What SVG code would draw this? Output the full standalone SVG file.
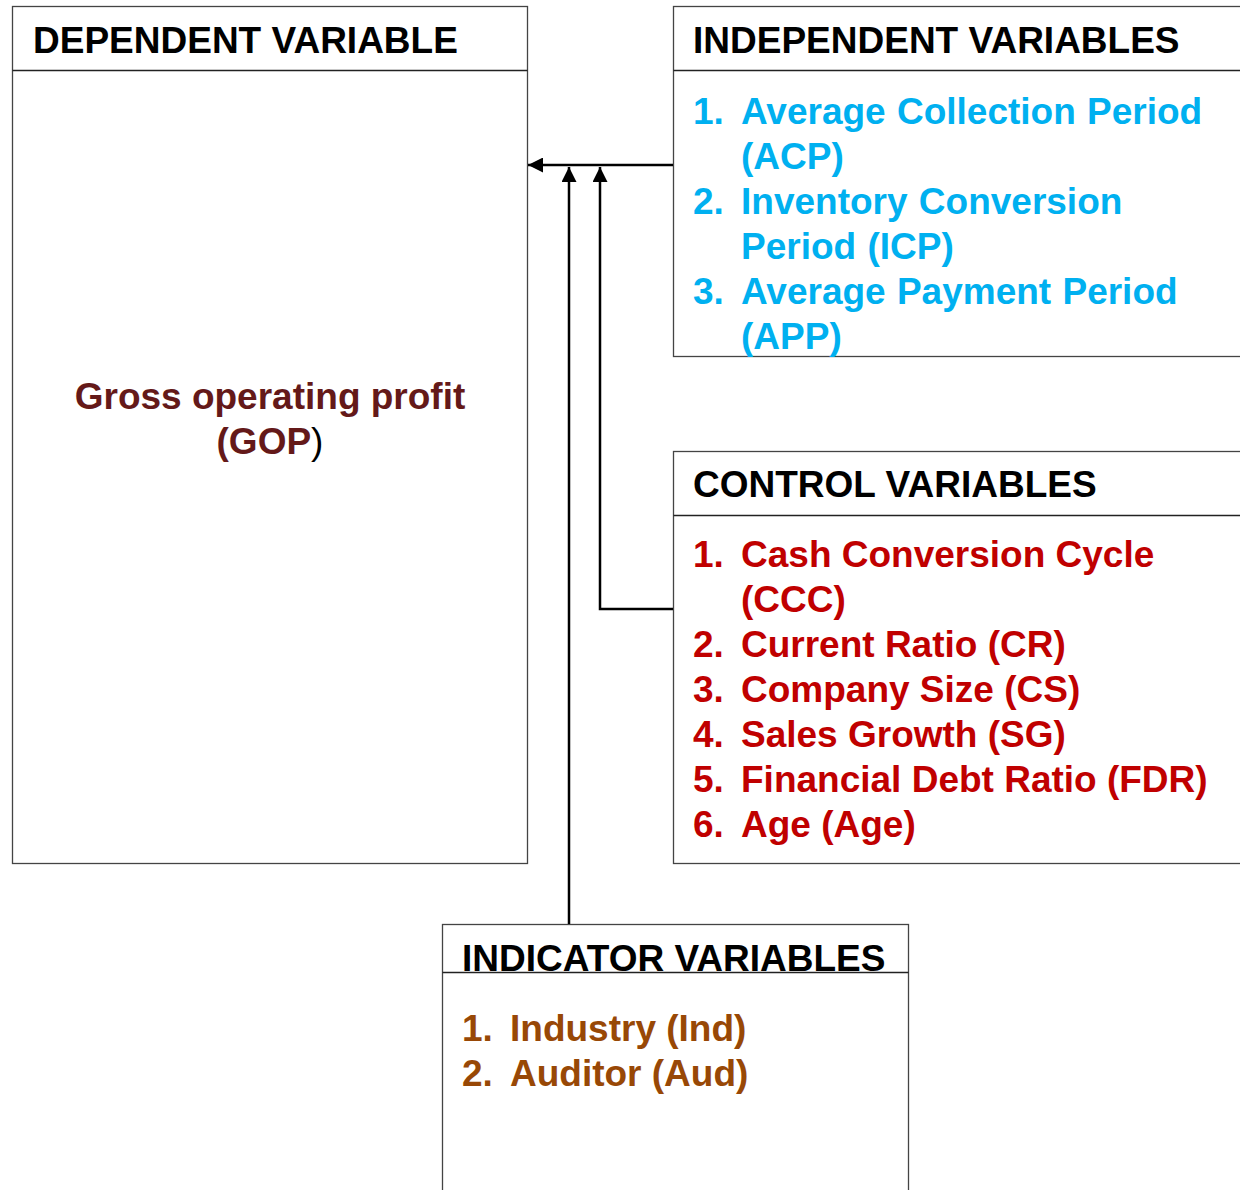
<svg xmlns="http://www.w3.org/2000/svg" width="1240" height="1190" viewBox="0 0 1240 1190">
<defs>
<style>
.box{fill:#fff;stroke:#444;stroke-width:1.3}
.hl{stroke:#222;stroke-width:1.3}
.t{font-family:"Liberation Sans",Arial,sans-serif;font-weight:bold;font-size:37px}
.h{fill:#000}
.cy{fill:#00B0F0}
.rd{fill:#C00000}
.br{fill:#984806}
.gp{fill:#641919}
.c{stroke:#000;stroke-width:2.5;fill:none}
</style>
<marker id="ah" viewBox="0 0 10 10" refX="10" refY="5" markerWidth="6" markerHeight="6" orient="auto" markerUnits="strokeWidth">
<path d="M0,0 L10,5 L0,10 Z" fill="#000"/>
</marker>
</defs>
<rect width="1240" height="1190" fill="#fff"/>
<g id="dependent">
<rect class="box" x="12.5" y="6.5" width="515" height="857"/>
<line class="hl" x1="12.5" y1="70.5" x2="527.5" y2="70.5"/>
<text class="t h" x="33" y="53">DEPENDENT VARIABLE</text>
<text class="t gp" x="270" y="409" text-anchor="middle">Gross operating profit</text>
<text class="t" x="270" y="454" text-anchor="middle"><tspan class="gp">(GOP</tspan><tspan font-weight="normal" fill="#000">)</tspan></text>
</g>
<g id="independent">
<rect class="box" x="673.5" y="6.5" width="580" height="350"/>
<line class="hl" x1="673.5" y1="70.5" x2="1240" y2="70.5"/>
<text class="t h" x="693" y="53">INDEPENDENT VARIABLES</text>
<g class="t cy">
<text x="693" y="124">1.</text><text x="741" y="124" word-spacing="1">Average Collection Period</text>
<text x="741" y="169">(ACP)</text>
<text x="693" y="214">2.</text><text x="741" y="214" word-spacing="1">Inventory Conversion</text>
<text x="741" y="259" word-spacing="1">Period (ICP)</text>
<text x="693" y="304">3.</text><text x="741" y="304" word-spacing="1">Average Payment Period</text>
<text x="741" y="349">(APP)</text>
</g>
</g>
<g id="control">
<rect class="box" x="673.5" y="451.5" width="580" height="412"/>
<line class="hl" x1="673.5" y1="515.5" x2="1240" y2="515.5"/>
<text class="t h" x="693" y="497">CONTROL VARIABLES</text>
<g class="t rd">
<text x="693" y="567">1.</text><text x="741" y="567" word-spacing="0">Cash Conversion Cycle</text>
<text x="741" y="612">(CCC)</text>
<text x="693" y="657">2.</text><text x="741" y="657">Current Ratio (CR)</text>
<text x="693" y="702">3.</text><text x="741" y="702">Company Size (CS)</text>
<text x="693" y="747">4.</text><text x="741" y="747">Sales Growth (SG)</text>
<text x="693" y="792">5.</text><text x="741" y="792">Financial Debt Ratio (FDR)</text>
<text x="693" y="837">6.</text><text x="741" y="837">Age (Age)</text>
</g>
</g>
<g id="indicator">
<rect class="box" x="442.5" y="924.5" width="466" height="280"/>
<line class="hl" x1="442.5" y1="972.5" x2="908.5" y2="972.5"/>
<text class="t h" x="462" y="971">INDICATOR VARIABLES</text>
<g class="t br">
<text x="462" y="1041">1.</text><text x="510" y="1041">Industry (Ind)</text>
<text x="462" y="1086">2.</text><text x="510" y="1086">Auditor (Aud)</text>
</g>
</g>
<g id="connectors">
<path class="c" d="M673,165 L528,165" marker-end="url(#ah)"/>
<path class="c" d="M673,609 L600,609 L600,167" marker-end="url(#ah)"/>
<path class="c" d="M569,924 L569,167" marker-end="url(#ah)"/>
</g>
</svg>
